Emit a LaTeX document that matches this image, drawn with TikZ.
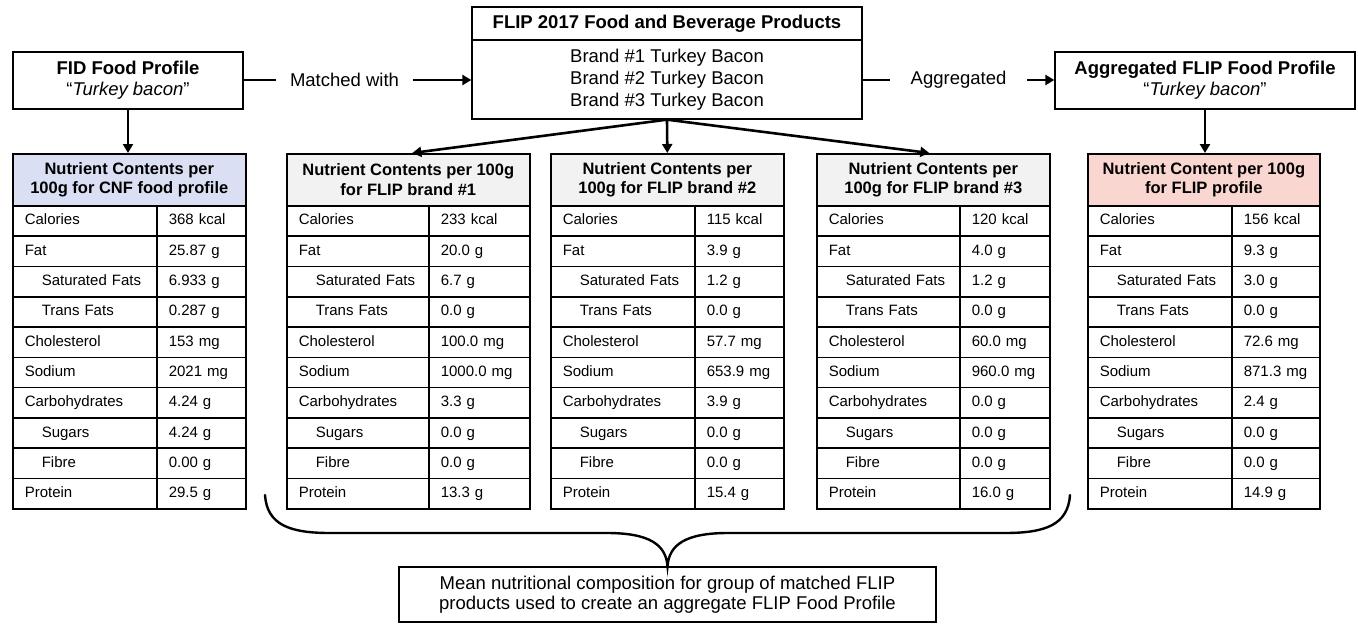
\documentclass[tikz,border=0pt]{standalone}
\usepackage{fontspec}
\setmainfont{Liberation Sans}
\usetikzlibrary{arrows.meta,calc}
\definecolor{hblue}{RGB}{218,223,243}
\definecolor{hpink}{RGB}{250,214,208}
\definecolor{hgray}{RGB}{242,242,242}

\tikzset{
  box/.style={draw, line width=1.3pt, align=center, inner sep=0pt, font=\fontsize{18.5}{21}\selectfont},
  hdr/.style={draw, line width=1.6pt, align=center, inner sep=0pt, minimum height=52pt, font=\bfseries\fontsize{16.5}{19.5}\selectfont},
  cell/.style={draw, line width=1.6pt, align=left, inner xsep=12pt, inner ysep=0pt, minimum height=30.3pt, text height=11pt, text depth=3pt, font=\fontsize{15}{17}\selectfont},
  conn/.style={line width=2.8pt},
  arr/.style={line width=2.6pt, -{Triangle[length=9pt,width=10pt]}},
  lbl/.style={inner sep=0pt, minimum width=137pt, font=\fontsize{18.5}{21}\selectfont}
}

\newcommand{\rowlab}[1]{\ifcase#1 Calories\or Fat\or \hspace*{17pt}Saturated Fats\or \hspace*{17pt}Trans Fats\or Cholesterol\or Sodium\or Carbohydrates\or \hspace*{17pt}Sugars\or \hspace*{17pt}Fibre\or Protein\fi}

% #1 name, #2 left, #3 divider, #4 right, #5 fill, #6 header, #7 values
\newcommand{\nuttable}[7]{%
  \pgfmathsetmacro{\wa}{#4-#2}%
  \pgfmathsetmacro{\wl}{#3-#2-24}%
  \pgfmathsetmacro{\wr}{#4-#3-24}%
  \node[hdr, fill=#5, minimum width=\wa pt, anchor=north west] (#1-h) at (#2,153) {#6};
  \foreach \val [count=\i from 0] in {#7} {
    \pgfmathsetmacro{\yy}{205+30.3*\i}
    \node[cell, text width=\wl pt, anchor=north west] (#1-l\i) at (#2,\yy) {\rowlab{\i}};
    \node[cell, text width=\wr pt, anchor=north west] (#1-v\i) at (#3,\yy) {\val};
  }
}

\begin{document}
\begin{tikzpicture}[x=1pt,y=-1pt]
\useasboundingbox (0,0) rectangle (1358,624);

% top boxes
\node[box, minimum width=230pt, minimum height=57pt] (fid) at (128,80.5)
  {\textbf{FID Food Profile}\\“\textit{Turkey bacon}”};
\node[box, minimum width=390pt, minimum height=33pt] (fliph) at (667,23.5)
  {\textbf{FLIP 2017 Food and Beverage Products}};
\node[box, minimum width=390pt, minimum height=79pt, font=\fontsize{18.5}{22}\selectfont] (flip) at (667,79.5)
  {Brand \#1 Turkey Bacon\\Brand \#2 Turkey Bacon\\Brand \#3 Turkey Bacon};
\node[box, minimum width=300pt, minimum height=57pt] (agg) at (1205,80.5)
  {\textbf{Aggregated FLIP Food Profile}\\“\textit{Turkey bacon}”};

% connector labels
\node[lbl] (mw) at (344.5,80) {Matched with};
\draw[conn] (mw.west -| fid.east) -- (mw.west);
\draw[arr] (mw.east) -- (mw.east -| flip.west);
\node[lbl] (ag) at (958.5,80) {Aggregated};
\draw[conn] (ag.west -| flip.east) -- (ag.west);
\draw[arr] (ag.east) -- (ag.east -| agg.west);

% tables
\nuttable{t1}{12}{156}{245}{hblue}{Nutrient Contents per\\100g for CNF food profile}
  {368 kcal,25.87 g,6.933 g,0.287 g,153 mg,2021 mg,4.24 g,4.24 g,0.00 g,29.5 g}
\nuttable{t2}{286}{428}{529}{hgray}{Nutrient Contents per 100g\\for FLIP brand \#1}
  {233 kcal,20.0 g,6.7 g,0.0 g,100.0 mg,1000.0 mg,3.3 g,0.0 g,0.0 g,13.3 g}
\nuttable{t3}{550}{694}{783}{hgray}{Nutrient Contents per\\100g for FLIP brand \#2}
  {115 kcal,3.9 g,1.2 g,0.0 g,57.7 mg,653.9 mg,3.9 g,0.0 g,0.0 g,15.4 g}
\nuttable{t4}{816}{959}{1049}{hgray}{Nutrient Contents per\\100g for FLIP brand \#3}
  {120 kcal,4.0 g,1.2 g,0.0 g,60.0 mg,960.0 mg,0.0 g,0.0 g,0.0 g,16.0 g}
\nuttable{t5}{1087}{1231}{1319}{hpink}{Nutrient Content per 100g\\for FLIP profile}
  {156 kcal,9.3 g,3.0 g,0.0 g,72.6 mg,871.3 mg,2.4 g,0.0 g,0.0 g,14.9 g}

% arrows down
\draw[arr] (fid.south) -- (fid.south |- t1-h.north);
\draw[arr] (flip.south) -- ($(t2-h.north)+(4,0)$);
\draw[arr] (flip.south) -- (t3-h.north);
\draw[arr] (flip.south) -- ($(t4-h.north)+(-4,0)$);
\draw[arr] (agg.south) -- (agg.south |- t5-h.north);

% bottom box and brace
\node[box, minimum width=537pt, minimum height=55pt, font=\fontsize{18.5}{20.5}\selectfont] (mean) at (667.5,594.5)
  {Mean nutritional composition for group of matched FLIP\\products used to create an aggregate FLIP Food Profile};
\draw[conn, line width=2.4pt, line cap=round] (265,495) .. controls (267,525) and (290,533) .. (330,533) -- (607,533)
  .. controls (650,533) and (666,545) .. (mean.north)
  .. controls (669,545) and (685,533) .. (728,533) -- (1005,533)
  .. controls (1045,533) and (1068,525) .. (1070,495);
\end{tikzpicture}
\end{document}
